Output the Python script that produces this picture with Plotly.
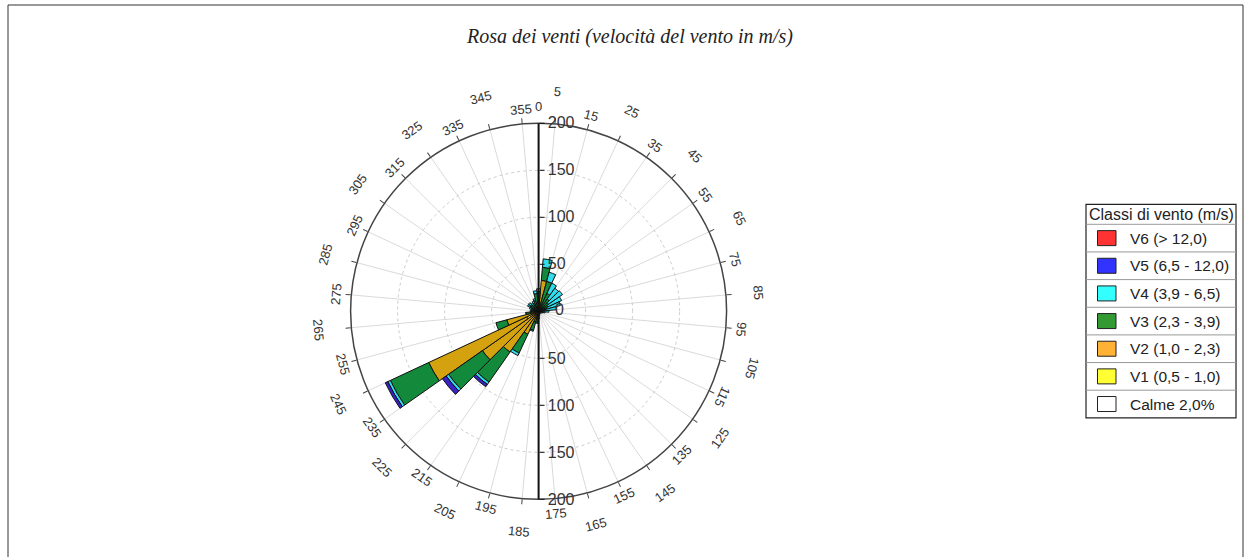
import math
import plotly.graph_objects as go

W, H = 1253, 557

# Wind direction sectors (degrees, clockwise from north), 10 degree bins
directions = list(range(0, 360, 10))

# Stacked counts per sector for each wind speed class
v1 = [1, 1, 1, 1, 1, 1, 1, 1, 1, 1, 1, 0.5, 0.5, 0.5, 0.5, 0.5, 0.5, 0.5,
      1, 1, 2, 3, 5, 8, 14, 5, 2, 1, 1, 1, 1, 1, 1, 1, 1, 1]
v2 = [12, 32, 6, 4, 3, 2, 2, 2, 1, 1, 1, 1, 1, 1, 1, 1, 1, 2,
      3, 5, 10, 24, 48, 65, 115, 30, 6, 3, 2, 2, 3, 3, 3, 3, 4, 8]
v3 = [8, 14, 26, 16, 12, 10, 8, 6, 5, 3, 2, 2, 1, 1, 1, 1, 2, 2,
      3, 6, 9, 22, 39, 44, 45, 12, 5, 4, 4, 5, 6, 6, 5, 6, 7, 10]
v4 = [3, 9, 10, 12, 14, 18, 16, 15, 12, 6, 3, 1, 1, 0.5, 0, 0, 0, 0,
      1, 1, 1, 3, 3, 3, 3, 0, 1, 1, 1, 2, 3, 3, 2, 2, 2, 3]
v5 = [0, 0, 0, 0, 0, 0, 0, 0, 0, 0, 0, 0, 0, 0, 0, 0, 0, 0,
      0, 0, 0, 0, 3, 5, 3, 0, 0, 0, 0, 0, 0, 0, 0, 0, 0, 0]
v6 = [0] * 36

class_names = ["V1 (0,5 - 1,0)", "V2 (1,0 - 2,3)", "V3 (2,3 - 3,9)",
               "V4 (3,9 - 6,5)", "V5 (6,5 - 12,0)", "V6 (> 12,0)"]
bar_colors = ["#F4F020", "#D4A20F", "#13893B", "#2FDDEE", "#3A22C8", "#F03030"]

# Legend rows (top to bottom) and their swatch colours
legend_title = "Classi di vento (m/s)"
legend_labels = ["V6 (> 12,0)", "V5 (6,5 - 12,0)", "V4 (3,9 - 6,5)",
                 "V3 (2,3 - 3,9)", "V2 (1,0 - 2,3)", "V1 (0,5 - 1,0)", "Calme 2,0%"]
legend_colors = ["#FF3333", "#3333FF", "#33FFFF", "#339933", "#FFB233", "#FFFF33", "#FFFFFF"]

# Angular tick labels
angle_ticks = list(range(5, 360, 10))
radial_up = [50, 100, 150, 200]
radial_down = [50, 100, 150, 200]

title_text = "Rosa dei venti (velocità del vento in m/s)"

# Geometry of the rose (pixels)
cx, cy, R = 538.6, 311.3, 188.0


def px(x):
    return x / W


def py(y):
    return 1 - y / H


fig = go.Figure()

series = [v1, v2, v3, v4, v5, v6]
for name, vals, col in zip(class_names, series, bar_colors):
    fig.add_trace(go.Barpolar(
        r=vals, theta=directions, width=[10] * len(directions),
        name=name, marker=dict(color=col, line=dict(color="#111111", width=1)),
        subplot="polar", showlegend=False,
    ))

# second (transparent) polar frame carrying the downward half of the radial scale
fig.add_trace(go.Scatterpolar(r=[], theta=[], subplot="polar2", showlegend=False))

dom_x = [px(cx - R), px(cx + R)]
dom_y = [py(cy + R), py(cy - R)]

font_sans = "Liberation Sans, Arial, sans-serif"

fig.update_layout(
    width=W, height=H,
    margin=dict(l=0, r=0, t=0, b=0),
    paper_bgcolor="white",
    showlegend=False,
    polar=dict(
        domain=dict(x=dom_x, y=dom_y),
        bgcolor="white",
        barmode="stack",
        angularaxis=dict(
            rotation=90, direction="clockwise",
            tickmode="array", tickvals=angle_ticks,
            showticklabels=False, ticks="outside", ticklen=5,
            tickcolor="#444444", showline=True, linecolor="#444444", linewidth=1.5,
            showgrid=True, gridcolor="#dadada", gridwidth=1,
        ),
        radialaxis=dict(
            range=[0, 200], angle=90, side="clockwise",
            tickmode="array", tickvals=radial_up, ticktext=[str(v) for v in radial_up],
            ticks="outside", ticklen=5, tickcolor="#111111", tickangle=90,
            showline=True, linecolor="#111111", linewidth=2,
            showgrid=True, gridcolor="#cccccc", griddash="dot", gridwidth=1,
            tickfont=dict(family=font_sans, size=16, color="#333333"),
        ),
    ),
    polar2=dict(
        domain=dict(x=dom_x, y=dom_y),
        bgcolor="rgba(0,0,0,0)",
        angularaxis=dict(visible=False, rotation=90, direction="clockwise"),
        radialaxis=dict(
            range=[0, 200], angle=-90, side="counterclockwise",
            tickmode="array", tickvals=radial_down, ticktext=[str(v) for v in radial_down],
            ticks="outside", ticklen=5, tickcolor="#111111", tickangle=-90,
            showline=True, linecolor="#111111", linewidth=2, showgrid=False,
            tickfont=dict(family=font_sans, size=16, color="#333333"),
        ),
    ),
)

annotations = []
shapes = []

# Title
annotations.append(dict(
    x=px(629.5), y=py(36), xref="paper", yref="paper", showarrow=False,
    xanchor="center", yanchor="middle",
    text="<i>" + title_text + "</i>",
    font=dict(family="Liberation Serif, Times New Roman, serif", size=20, color="#222222"),
))

# Zero of the radial scale, beside the centre
annotations.append(dict(
    x=px(cx + 21), y=py(cy - 1.5), xref="paper", yref="paper", showarrow=False,
    xanchor="center", yanchor="middle", text="0",
    font=dict(family=font_sans, size=16, color="#333333"),
))

# Rotated direction labels, staggered on two radii
def add_dir_label(theta, rpix):
    t = math.radians(theta)
    x = cx + rpix * math.sin(t)
    y = cy - rpix * math.cos(t)
    if theta <= 115:
        ang = theta
    elif theta <= 265:
        ang = theta - 180
    else:
        ang = theta - 360
    annotations.append(dict(
        x=px(x), y=py(y), xref="paper", yref="paper", showarrow=False,
        xanchor="center", yanchor="middle",
        text=str(theta), textangle=ang,
        font=dict(family=font_sans, size=13, color="#333333"),
    ))


for i, th in enumerate(angle_ticks):
    add_dir_label(th, 221 if i % 2 == 0 else 203)
add_dir_label(0, 205)

# Custom legend table
lx0, lx1 = 1086, 1236
ltop, title_bot, row_h = 204.3, 224.3, 27.65
lbot = title_bot + row_h * len(legend_labels)
shapes.append(dict(type="rect", xref="paper", yref="paper",
                   x0=px(lx0), x1=px(lx1), y0=py(lbot), y1=py(ltop),
                   line=dict(color="#222222", width=1.2), fillcolor="white", layer="above"))
annotations.append(dict(
    x=px(lx0 + 1), y=py((ltop + title_bot) / 2), xref="paper", yref="paper",
    xanchor="left", yanchor="middle", showarrow=False, text=legend_title,
    font=dict(family=font_sans, size=16, color="#222222"),
))
for i, (lab, col) in enumerate(zip(legend_labels, legend_colors)):
    top = title_bot + i * row_h
    mid = top + row_h / 2
    shapes.append(dict(type="line", xref="paper", yref="paper",
                       x0=px(lx0), x1=px(lx1), y0=py(top), y1=py(top),
                       line=dict(color="#999999", width=1), layer="above"))
    shapes.append(dict(type="rect", xref="paper", yref="paper",
                       x0=px(1097.5), x1=px(1116), y0=py(mid + 7.5), y1=py(mid - 7.5),
                       line=dict(color="#222222", width=1), fillcolor=col, layer="above"))
    annotations.append(dict(
        x=px(1128), y=py(mid), xref="paper", yref="paper",
        xanchor="left", yanchor="middle",
        showarrow=False, text=lab,
        font=dict(family=font_sans, size=15.5, color="#222222"),
    ))

# Outer frame (top, left, right)
frame_col = "#333333"
shapes.append(dict(type="line", xref="paper", yref="paper", x0=px(8), x1=px(1243),
                   y0=py(5), y1=py(5), line=dict(color=frame_col, width=1)))
shapes.append(dict(type="line", xref="paper", yref="paper", x0=px(8), x1=px(8),
                   y0=py(5), y1=py(H + 5), line=dict(color=frame_col, width=1)))
shapes.append(dict(type="line", xref="paper", yref="paper", x0=px(1243), x1=px(1243),
                   y0=py(5), y1=py(H + 5), line=dict(color=frame_col, width=1)))

fig.update_layout(annotations=annotations, shapes=shapes)

fig.write_html("out.html")
